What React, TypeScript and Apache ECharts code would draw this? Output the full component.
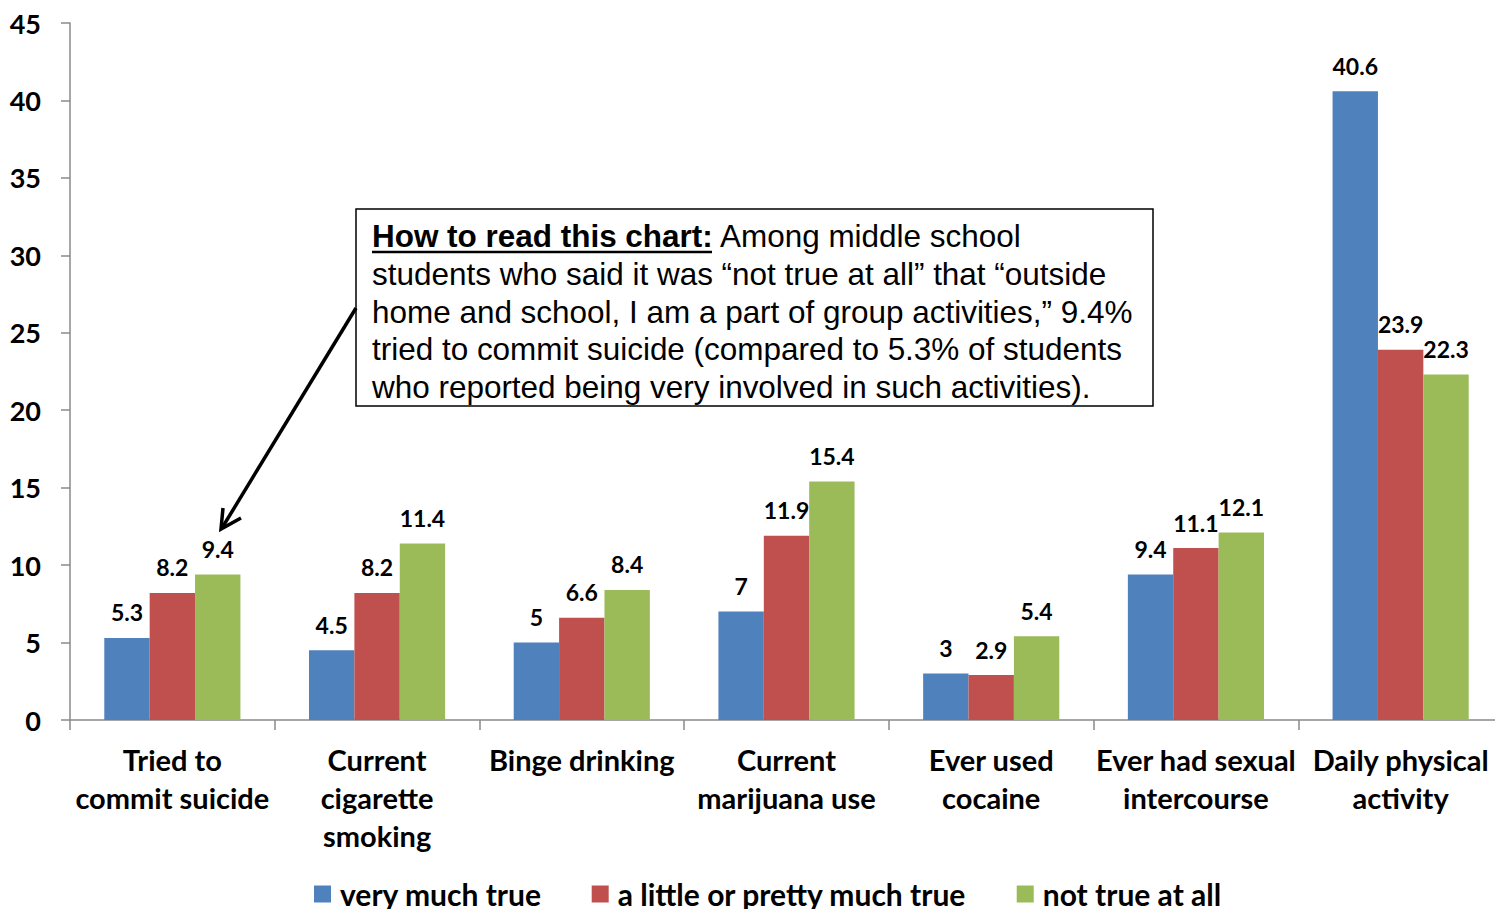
import React, { useEffect, useRef } from "react";
import * as echarts from "echarts";

const categories = [
  "Tried to\ncommit suicide",
  "Current\ncigarette\nsmoking",
  "Binge drinking",
  "Current\nmarijuana use",
  "Ever used\ncocaine",
  "Ever had sexual\nintercourse",
  "Daily physical\nactivity",
];
const seriesNames = ["very much true", "a little or pretty much true", "not true at all"];
const veryMuchTrue = [5.3, 4.5, 5, 7, 3, 9.4, 40.6];
const aLittleOrPrettyMuchTrue = [8.2, 8.2, 6.6, 11.9, 2.9, 11.1, 23.9];
const notTrueAtAll = [9.4, 11.4, 8.4, 15.4, 5.4, 12.1, 22.3];
const colors = ["#4F81BD", "#C0504D", "#9BBB59"];
const noteLines = [
  "students who said it was \u201cnot true at all\u201d that \u201coutside",
  "home and school, I am a part of group activities,\u201d 9.4%",
  "tried to commit suicide (compared to 5.3% of students",
  "who reported being very involved in such activities).",
];
const noteHead = "How to read this chart:";
const noteHeadRest = "Among middle school";

const FONT = "Lato, 'Open Sans', sans-serif";
const NOTE_FONT = "'Liberation Sans', Arial, sans-serif";

export default function App() {
  const ref = useRef<HTMLDivElement>(null);
  useEffect(() => {
    const chart = echarts.init(ref.current!, null, { renderer: "svg" });
    const data = [veryMuchTrue, aLittleOrPrettyMuchTrue, notTrueAtAll];
    const noteScale = 1.015;
    const noteSize = 31;
    const lineY = [237, 275, 313, 350, 388];
    const graphic: any[] = [
      {
        type: "rect",
        shape: { x: 356, y: 209, width: 797, height: 197 },
        style: { fill: "#fff", stroke: "#000", lineWidth: 1.5 },
        z: 100,
      },
      {
        type: "text",
        x: 372,
        y: lineY[0],
        scaleX: noteScale,
        style: {
          text: noteHead,
          fontFamily: NOTE_FONT,
          fontSize: noteSize,
          fontWeight: "bold",
          fill: "#000",
          verticalAlign: "middle",
        },
        z: 101,
      },
      {
        type: "line",
        shape: { x1: 372, y1: 252, x2: 712, y2: 252 },
        style: { stroke: "#000", lineWidth: 2.5 },
        z: 101,
      },
      {
        type: "text",
        x: 720,
        y: lineY[0],
        scaleX: noteScale,
        style: {
          text: noteHeadRest,
          fontFamily: NOTE_FONT,
          fontSize: noteSize,
          fill: "#000",
          verticalAlign: "middle",
        },
        z: 101,
      },
      ...noteLines.map((t, i) => ({
        type: "text",
        x: 372,
        y: lineY[i + 1],
        scaleX: noteScale,
        style: {
          text: t,
          fontFamily: NOTE_FONT,
          fontSize: noteSize,
          fill: "#000",
          verticalAlign: "middle",
        },
        z: 101,
      })),
      {
        type: "line",
        shape: { x1: 356, y1: 308, x2: 222, y2: 528 },
        style: { stroke: "#000", lineWidth: 3.5 },
        z: 102,
      },
      {
        type: "polyline",
        shape: { points: [[223, 508], [221, 529], [241, 518]] },
        style: { stroke: "#000", lineWidth: 3.5, fill: "none" },
        z: 102,
      },
    ];
    chart.setOption({
      animation: false,
      backgroundColor: "#fff",
      color: colors,
      grid: { left: 70, right: 0, top: 23, bottom: 189, containLabel: false },
      legend: {
        left: 309,
        top: 874,
        itemWidth: 17,
        itemHeight: 17,
        itemGap: 50,
        icon: "rect",
        textStyle: {
          fontFamily: FONT,
          fontSize: 30,
          fontWeight: "bold",
          color: "#000",
          padding: [0, 0, 0, 4],
        },
        data: seriesNames,
      },
      xAxis: {
        type: "category",
        data: categories,
        axisLine: { lineStyle: { color: "#8a8a8a", width: 1.5 } },
        axisTick: { show: true, length: 10, lineStyle: { color: "#8a8a8a", width: 1.5 } },
        axisLabel: {
          interval: 0,
          margin: 20,
          fontFamily: FONT,
          fontSize: 29,
          fontWeight: "bold",
          color: "#000",
          lineHeight: 38,
        },
      },
      yAxis: {
        type: "value",
        min: 0,
        max: 45,
        interval: 5,
        splitLine: { show: false },
        axisLine: { show: true, lineStyle: { color: "#8a8a8a", width: 1.5 } },
        axisTick: { show: true, length: 9, lineStyle: { color: "#8a8a8a", width: 1.5 } },
        axisLabel: {
          margin: 29,
          fontFamily: FONT,
          fontSize: 27,
          fontWeight: "bold",
          color: "#000",
        },
      },
      series: seriesNames.map((name, i) => ({
        name,
        type: "bar",
        data: data[i],
        barGap: "0%",
        barCategoryGap: "33.5%",
        itemStyle: { color: colors[i] },
        label: {
          show: true,
          position: "top",
          distance: 14,
          fontFamily: FONT,
          fontSize: 23,
          fontWeight: "bold",
          color: "#000",
        },
      })),
      graphic,
    });
    return () => chart.dispose();
  }, []);
  return (
    <div
      ref={ref}
      style={{ position: "fixed", left: 0, top: 0, width: 1503, height: 909 }}
    />
  );
}
